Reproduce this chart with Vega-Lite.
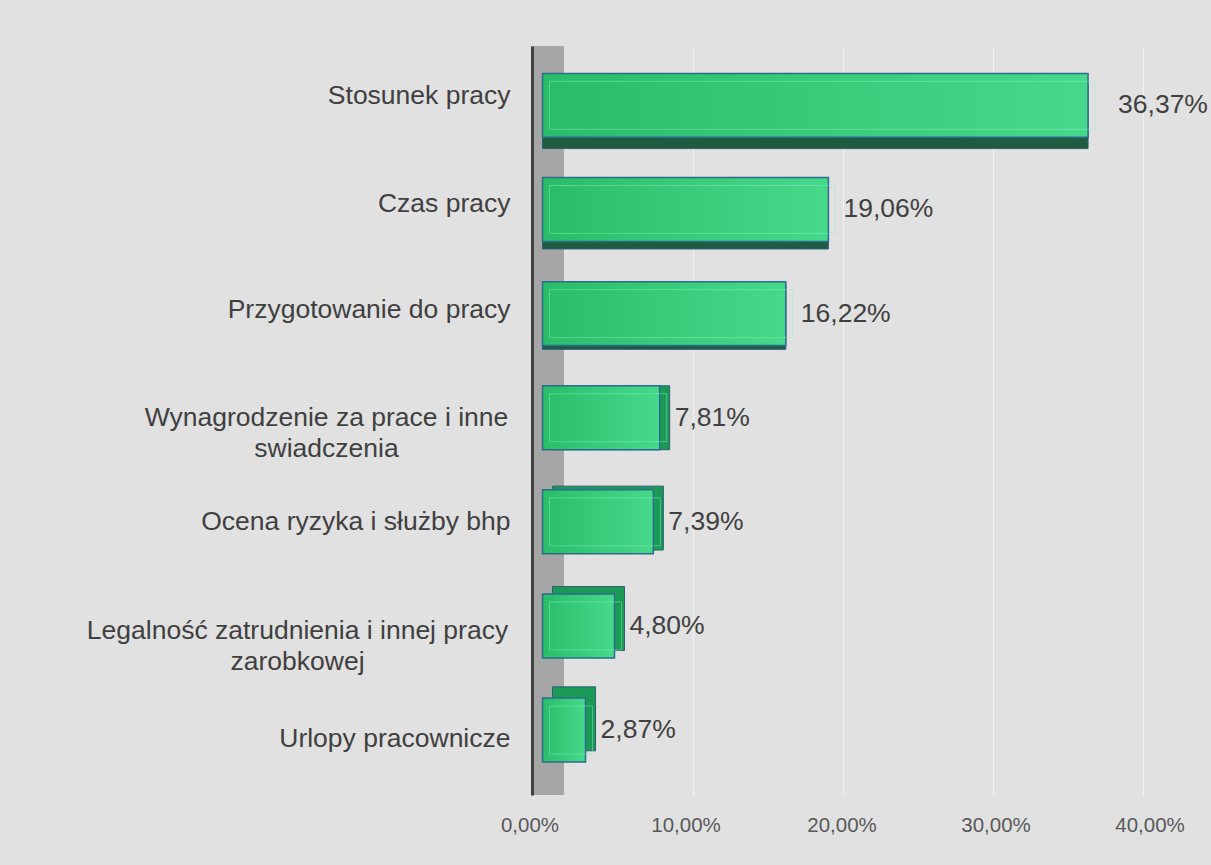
{
  "$schema": "https://vega.github.io/schema/vega-lite/v6.json",
  "width": 610.5,
  "height": 749,
  "autosize": {"type": "none"},
  "padding": {"left": 532, "top": 46, "right": 68.5, "bottom": 70},
  "background": "#e1e1e1",
  "config": {
    "locale": {"number": {"decimal": ",", "thousands": " ", "grouping": [3], "currency": ["", " zł"]}},
    "view": {"stroke": null},
    "font": "Liberation Sans"
  },
  "data": {"values": [
    {"category": "Stosunek pracy", "value": 0.3637},
    {"category": "Czas pracy", "value": 0.1906},
    {"category": "Przygotowanie do pracy", "value": 0.1622},
    {"category": "Wynagrodzenie za prace i inne\nswiadczenia", "value": 0.0781},
    {"category": "Ocena ryzyka i służby bhp", "value": 0.0739},
    {"category": "Legalność zatrudnienia i innej pracy\nzarobkowej", "value": 0.048},
    {"category": "Urlopy pracownicze", "value": 0.0287}
  ]},
  "layer": [
    {
      "data": {"values": [{"part": "wall"}]},
      "mark": {"type": "rect", "fill": "#a6a6a6"},
      "encoding": {
        "x": {
          "datum": -0.007, "type": "quantitative", "title": null,
          "scale": {"domain": [-0.007, 0.4], "nice": false, "zero": false},
          "axis": {
            "values": [0, 0.1, 0.2, 0.3, 0.4], "format": ".2%",
            "domain": false, "ticks": false, "labelFlush": false,
            "labelFont": "Liberation Sans", "labelFontSize": 20.5, "labelColor": "#595959",
            "labelPadding": 20,
            "labelOffset": {"condition": [
              {"test": "datum.value < 0.05", "value": -13},
              {"test": "datum.value < 0.15", "value": -7},
              {"test": "datum.value < 0.25", "value": -1},
              {"test": "datum.value < 0.35", "value": 3}
            ], "value": 7},
            "grid": true, "gridColor": "#ffffff", "gridOpacity": 0.55, "gridWidth": 1.2
          }
        },
        "x2": {"datum": 0.0143}
      }
    },
    {
      "encoding": {
        "y": {
          "field": "category", "type": "nominal", "sort": null, "title": null,
          "scale": {"paddingInner": 0.386, "paddingOuter": 0.29, "align": 0.454},
          "axis": {
            "zindex": 1,
            "domainColor": "#404040", "domainWidth": 3,
            "ticks": false, "grid": false,
            "labelFont": "Liberation Sans", "labelFontSize": 26.5, "labelColor": "#404040",
            "labelLimit": 600, "labelLineHeight": 31,
            "labelExpr": "split(datum.value, '\\n')",
            "labelAlign": {"condition": {"test": "indexof(datum.value, '\\n') >= 0", "value": "center"}, "value": "right"},
            "labelPadding": {"condition": [
              {"test": "indexof(datum.value, 'Wynagrodzenie') == 0", "value": 206},
              {"test": "indexof(datum.value, 'Legalno') == 0", "value": 235}
            ], "value": 22},
            "labelOffset": {"condition": [
              {"test": "datum.value == 'Stosunek pracy'", "value": -9},
              {"test": "datum.value == 'Czas pracy'", "value": -5},
              {"test": "datum.value == 'Przygotowanie do pracy'", "value": -4},
              {"test": "indexof(datum.value, 'Legalno') == 0", "value": 5},
              {"test": "datum.value == 'Urlopy pracownicze'", "value": 9}
            ], "value": 0}
          }
        }
      },
      "layer": [
        {
          "mark": {
            "type": "bar",
            "fill": {"expr": "scale('y', datum.category) < 330 ? '#1f5b40' : '#1a9a55'"},
            "stroke": "#2b5f7a", "strokeWidth": 1,
            "yOffset": {"expr": "(372 - scale('y', datum.category) - bandwidth('y')/2) * 0.036"},
            "xOffset": {"expr": "scale('y', datum.category) > 330 ? 10 : 0"}
          },
          "encoding": {"x": {"field": "value", "type": "quantitative", "title": null}}
        },
        {
          "mark": {
            "type": "bar",
            "fill": {"gradient": "linear", "x1": 0, "x2": 1, "y1": 0, "y2": 0,
              "stops": [{"offset": 0, "color": "#29bd69"}, {"offset": 1, "color": "#47d98b"}]},
            "stroke": "#2c6b8e", "strokeWidth": 1.5
          },
          "encoding": {"x": {"field": "value", "type": "quantitative", "title": null}}
        },
        {
          "mark": {
            "type": "bar", "fill": "transparent",
            "stroke": "#8ff0bc", "strokeOpacity": 0.45, "strokeWidth": 1,
            "height": {"band": 0.75}, "xOffset": 7, "x2Offset": -7
          },
          "encoding": {"x": {"field": "value", "type": "quantitative", "title": null}}
        },
        {
          "mark": {
            "type": "text", "align": "left", "baseline": "middle",
            "dx": {"expr": "datum.value > 0.3 ? 30 : 15"},
            "font": "Liberation Sans", "fontSize": 26.5, "color": "#404040"
          },
          "encoding": {
            "x": {"field": "value", "type": "quantitative", "title": null},
            "text": {"field": "value", "type": "quantitative", "format": ".2%"}
          }
        }
      ]
    }
  ]
}
